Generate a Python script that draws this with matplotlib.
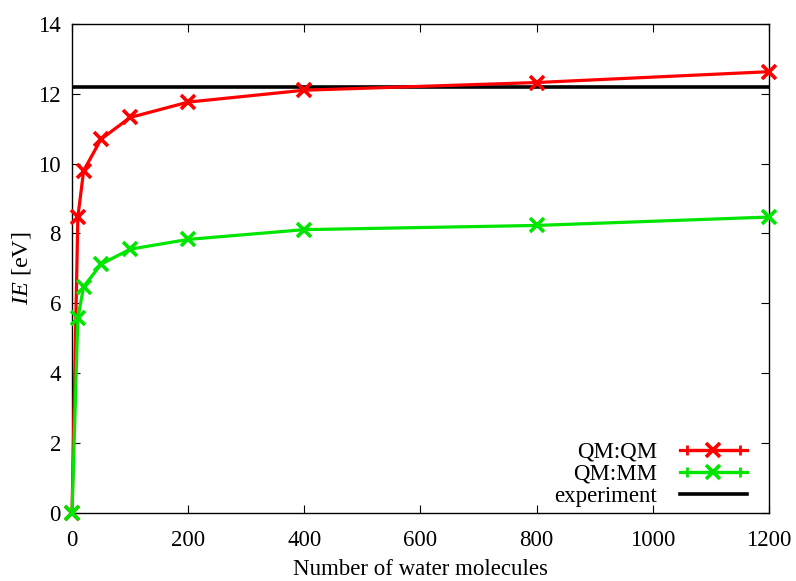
import matplotlib
matplotlib.use("Agg")
import matplotlib.pyplot as plt
from matplotlib.lines import Line2D
from matplotlib.legend_handler import HandlerLine2D, HandlerTuple

plt.rcParams["font.family"] = ["Liberation Serif", "DejaVu Serif"]
plt.rcParams["mathtext.fontset"] = "custom"
plt.rcParams["mathtext.rm"] = "Liberation Serif"
plt.rcParams["mathtext.it"] = "Liberation Serif:italic"

# data
n_water = [0, 10, 20, 50, 100, 200, 400, 800, 1200]
ie_qmqm = [0.0, 8.47, 9.8, 10.7, 11.32, 11.76, 12.1, 12.32, 12.63]
ie_qmmm = [0.0, 5.58, 6.48, 7.12, 7.55, 7.83, 8.11, 8.23, 8.47]
ie_exp = 12.18

red = "#ff0000"
green = "#00e600"
fs = 16.5

fig = plt.figure(figsize=(7.96, 5.81), dpi=100)
ax = fig.add_axes([0.0905, 0.117, 0.8755, 0.842])

ax.plot(n_water, ie_qmqm, color=red, lw=2.3, marker="x", ms=10, mew=2.6, zorder=3, clip_on=False)
ax.plot(n_water, ie_qmmm, color=green, lw=2.3, marker="x", ms=10, mew=2.6, zorder=4, clip_on=False)
ax.axhline(ie_exp, color="black", lw=2.6, zorder=2)

ax.set_xlim(0, 1200)
ax.set_ylim(0, 14)
ax.set_xticks(range(0, 1201, 200))
ax.set_yticks(range(0, 15, 2))
ax.tick_params(direction="in", top=True, right=True, labelsize=fs, length=6, width=0.8)
ax.tick_params(axis="x", pad=12)
ax.tick_params(axis="y", pad=8)
ax.set_xlabel("Number of water molecules", fontsize=fs, labelpad=6)
ax.set_ylabel("$IE$ [eV]", fontsize=17.5)
ax.yaxis.set_label_coords(-0.056, 0.5)
for s in ax.spines.values():
    s.set_linewidth(1.0)

# legend samples with gnuplot style end caps
def sample(col):
    mk = Line2D([], [], color=col, lw=2.3, marker="x", ms=10, mew=2.6)
    cap = Line2D([], [], color=col, lw=2.3, marker="|", ms=7, mew=2)
    return mk, cap

r_mk, r_cap = sample(red)
g_mk, g_cap = sample(green)
exp_line = Line2D([], [], color="black", lw=2.6)

hmap = {
    r_mk: HandlerLine2D(numpoints=1),
    g_mk: HandlerLine2D(numpoints=1),
    r_cap: HandlerLine2D(numpoints=2),
    g_cap: HandlerLine2D(numpoints=2),
    tuple: HandlerTuple(ndivide=1, pad=0),
}
ax.legend([(r_mk, r_cap), (g_mk, g_cap), exp_line],
          ["QM:QM", "QM:MM", "experiment"],
          loc="lower right", bbox_to_anchor=(0.968, 0.012),
          borderaxespad=0, borderpad=0,
          frameon=False, markerfirst=False, fontsize=fs,
          handlelength=2.9, handletextpad=1.0, labelspacing=0.05,
          handler_map=hmap)

fig.savefig("out.png", dpi=100)
